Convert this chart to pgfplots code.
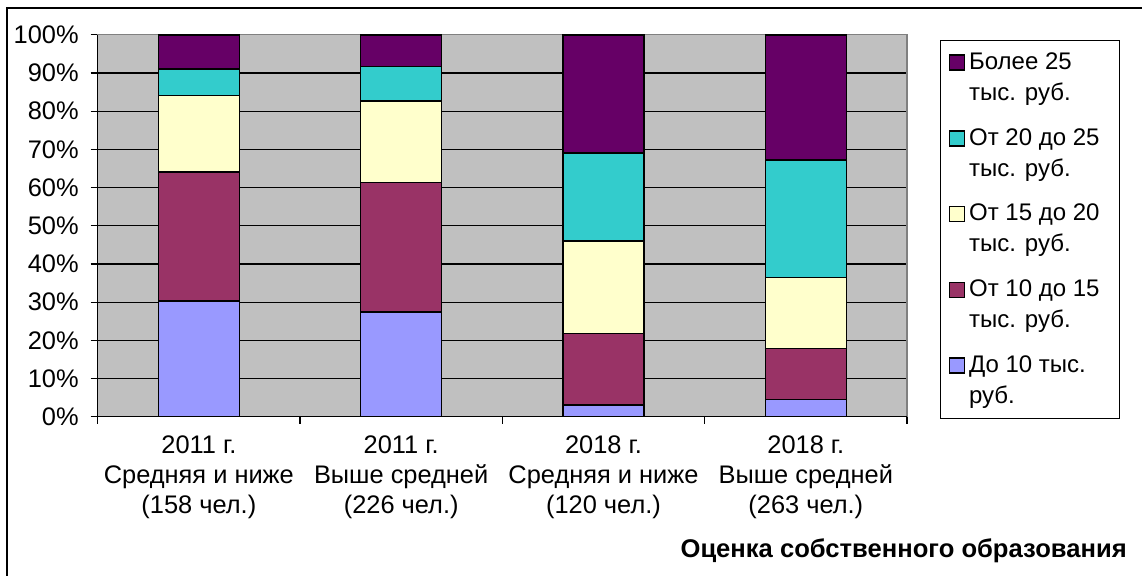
\documentclass[border=0pt]{standalone}
\usepackage{fontspec}
\setmainfont{Liberation Sans}
\usepackage{pgfplots}
\pgfplotsset{compat=1.18}
\definecolor{cBlue}{HTML}{9999FF}
\definecolor{cMaroon}{HTML}{993366}
\definecolor{cYellow}{HTML}{FFFFCC}
\definecolor{cCyan}{HTML}{33CCCC}
\definecolor{cPurple}{HTML}{660066}
\definecolor{cBg}{HTML}{C0C0C0}
\begin{document}
\begin{tikzpicture}
\path[use as bounding box] (-48.85pt,-79.15pt) rectangle (522.15pt,208.35pt);
\draw[line width=0.75pt] (-45.35pt,-90pt) -- (-45.35pt,204.35pt) -- (530pt,204.35pt);
\begin{axis}[
  at={(0,0)}, anchor=south west,
  scale only axis, width=404.65pt, height=191pt,
  ybar stacked, bar width=40.5pt,
  xmin=-0.5, xmax=3.5, ymin=0, ymax=100,
  axis background/.style={fill=cBg},
  axis line style={draw=gray, line width=0.75pt},
  tick pos=left,
  ytick={0,10,...,100},
  yticklabel={\pgfmathprintnumber{\tick}\%},
  /pgf/number format/assume math mode=true,
  yticklabel style={xshift=-2.5pt},
  ymajorgrids, grid style={black, line width=0.6pt},
  tick align=outside, major tick length=3.5pt,
  tick style={black, line width=0.6pt},
  ticklabel style={font=\fontsize{12.7}{15}\selectfont},
  xtick={-0.5,0.5,1.5,2.5,3.5}, xticklabels={},
  extra x ticks={0,1,2,3},
  extra x tick labels={{2011 г.\\Средняя и ниже\\(158 чел.)},{2011 г.\\Выше средней\\(226 чел.)},{2018 г.\\Средняя и ниже\\(120 чел.)},{2018 г.\\Выше средней\\(263 чел.)}},
  extra x tick style={grid=none, major tick length=0pt, xticklabel style={align=center, yshift=-6pt, font=\fontsize{12.7}{15}\selectfont}},
  xlabel={Оценка собственного образования},
  xlabel style={at={(axis description cs:1.2719,-0.3516)}, anchor=east, inner sep=0pt, font=\fontsize{12.8}{15}\selectfont\bfseries},
  legend style={at={(axis description cs:1.0408,0.986)}, anchor=north west, draw=black, line width=0.6pt,
    font=\fontsize{12}{15.5}\selectfont, cells={anchor=west, align=left}, row sep=8.5pt, inner sep=4pt},
  reverse legend,
  legend image code/.code={\draw[#1, draw=black, line width=0.75pt] (0pt,4pt) rectangle (7.5pt,11.5pt);},
  after end axis/.code={\draw[black, line width=0.75pt] (rel axis cs:0,1) -- (rel axis cs:0,0) -- (rel axis cs:1,0);},
]
\addplot[fill=cBlue, draw=black, line width=0.8pt] coordinates {(0,30.3) (1,27.4) (2,3.1) (3,4.5)};
\addlegendentry{До 10 тыс.\\руб.}
\addplot[fill=cMaroon, draw=black, line width=0.8pt] coordinates {(0,33.7) (1,33.9) (2,18.7) (3,13.4)};
\addlegendentry{От 10 до 15\\тыс. руб.}
\addplot[fill=cYellow, draw=black, line width=0.8pt] coordinates {(0,20.1) (1,21.3) (2,24.2) (3,18.5)};
\addlegendentry{От 15 до 20\\тыс. руб.}
\addplot[fill=cCyan, draw=black, line width=0.8pt] coordinates {(0,7.0) (1,9.1) (2,23.1) (3,30.8)};
\addlegendentry{От 20 до 25\kern4pt\\тыс. руб.}
\addplot[fill=cPurple, draw=black, line width=0.8pt] coordinates {(0,8.9) (1,8.3) (2,30.9) (3,32.8)};
\addlegendentry{Более 25\\тыс. руб.}
\end{axis}
\end{tikzpicture}
\end{document}
